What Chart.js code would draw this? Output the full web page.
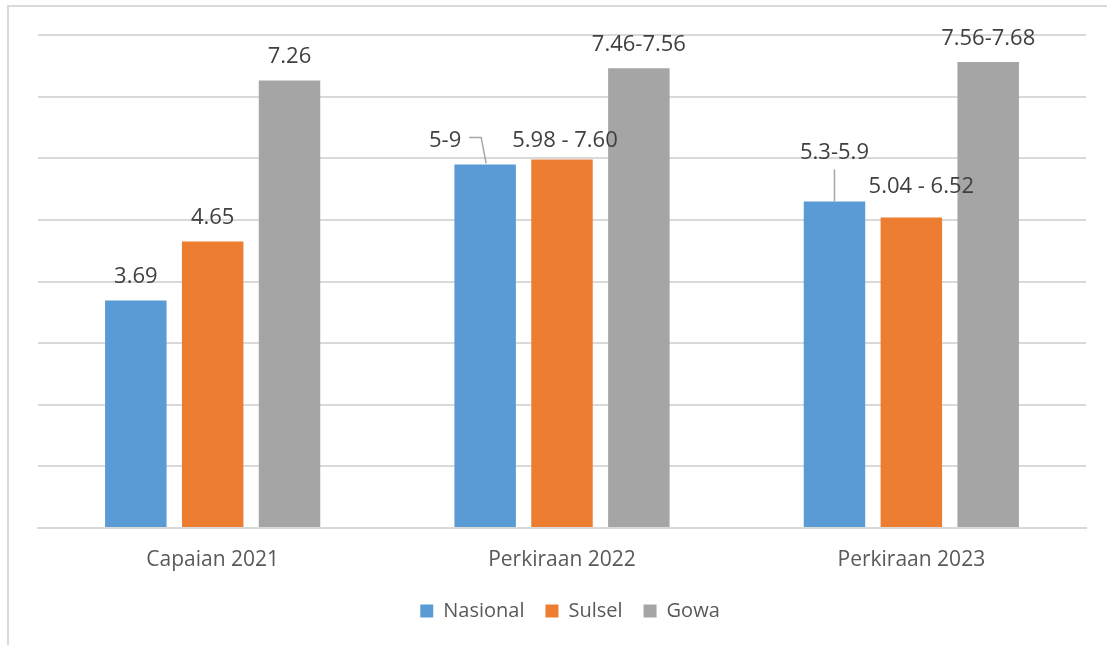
<!DOCTYPE html>
<html>
<head>
<meta charset="utf-8">
<script src="https://cdn.jsdelivr.net/npm/chart.js@4.4.1/dist/chart.umd.min.js"></script>
<style>
  html, body { margin: 0; padding: 0; background: #ffffff; }
  #wrap { position: relative; width: 1107px; height: 645px; }
</style>
</head>
<body>
<div id="wrap"><canvas id="chart" width="1107" height="645"></canvas></div>
<script>
// Categories and series
const categories = ['Capaian 2021', 'Perkiraan 2022', 'Perkiraan 2023'];
const seriesNames = ['Nasional', 'Sulsel', 'Gowa'];
const nasional = [3.69, 5.9, 5.3];
const sulsel = [4.65, 5.98, 5.04];
const gowa = [7.26, 7.46, 7.56];

// Value label texts shown over each bar
const labelsNasional = ['3.69', '5-9', '5.3-5.9'];
const labelsSulsel = ['4.65', '5.98 - 7.60', '5.04 - 6.52'];
const labelsGowa = ['7.26', '7.46-7.56', '7.56-7.68'];

// Y axis range and grid step
const yMin = 0, yMax = 8, yStep = 1;

const colors = ['#5b9bd5', '#ed7d31', '#a5a5a5'];
const FONT = '"Open Sans", "Noto Sans", sans-serif';

// Label placement relative to the bar top (dx, dy to text baseline), plus optional leader line
const labelPlacement = [
  [{dx: 0, dy: -18}, {dx: -40, dy: -17.5, leader: [[-16, -27], [-4, -27], [1, -1]]}, {dx: 0, dy: -42, leader: [[0, -32], [0, 0]]}],
  [{dx: 0, dy: -17.5}, {dx: 3, dy: -12.5}, {dx: 10, dy: -24}],
  [{dx: 0, dy: -17.5}, {dx: 0, dy: -17.5}, {dx: 0, dy: -17.5}]
];
const valueLabels = [labelsNasional, labelsSulsel, labelsGowa];

const frameAndLabels = {
  id: 'frameAndLabels',
  afterLayout(chart) {
    // nudge the legend row slightly right so it sits under the bar groups
    const lg = chart.legend;
    if (lg) { lg.left += 8; lg.right += 8; }
  },
  beforeDraw(chart) {
    const ctx = chart.ctx;
    ctx.save();
    ctx.strokeStyle = '#d9d9d9';
    ctx.lineWidth = 2;
    ctx.beginPath();
    ctx.moveTo(8, 645);
    ctx.lineTo(8, 6);
    ctx.lineTo(1107, 6);
    ctx.stroke();
    ctx.restore();
  },
  afterDatasetsDraw(chart) {
    const ctx = chart.ctx;
    ctx.save();
    ctx.font = '22px ' + FONT;
    ctx.fillStyle = '#404040';
    ctx.textAlign = 'center';
    ctx.textBaseline = 'alphabetic';
    chart.data.datasets.forEach((ds, di) => {
      const meta = chart.getDatasetMeta(di);
      meta.data.forEach((bar, i) => {
        const p = labelPlacement[di][i];
        const text = valueLabels[di][i];
        if (p.leader) {
          ctx.save();
          ctx.strokeStyle = '#a6a6a6';
          ctx.lineWidth = 1.5;
          ctx.beginPath();
          p.leader.forEach((pt, k) => {
            const px = bar.x + pt[0], py = bar.y + pt[1];
            if (k === 0) ctx.moveTo(px, py); else ctx.lineTo(px, py);
          });
          ctx.stroke();
          ctx.restore();
        }
        ctx.fillText(text, bar.x + p.dx, bar.y + p.dy);
      });
    });
    ctx.restore();
  }
};

new Chart(document.getElementById('chart'), {
  type: 'bar',
  data: {
    labels: categories,
    datasets: [
      {label: seriesNames[0], data: nasional, backgroundColor: colors[0]},
      {label: seriesNames[1], data: sulsel, backgroundColor: colors[1]},
      {label: seriesNames[2], data: gowa, backgroundColor: colors[2]}
    ]
  },
  options: {
    responsive: false,
    animation: false,
    events: [],
    categoryPercentage: 0.66,
    barPercentage: 0.8,
    layout: {padding: {left: 38, right: 21, top: 35, bottom: 14}},
    scales: {
      x: {
        grid: {display: false, drawTicks: false},
        border: {display: true, color: '#d9d9d9', width: 2},
        ticks: {color: '#595959', font: {family: FONT, size: 21}, padding: 19},
        afterFit(scale) { scale.height = 52; }
      },
      y: {
        min: yMin, max: yMax,
        grid: {color: '#d9d9d9', lineWidth: 2, drawTicks: false},
        border: {display: false},
        ticks: {display: false, stepSize: yStep},
        afterFit(scale) { scale.width = 0; }
      }
    },
    plugins: {
      legend: {
        position: 'bottom',
        labels: {
          color: '#595959',
          font: {family: FONT, size: 20},
          boxWidth: 13, boxHeight: 13,
          padding: 21
        }
      },
      tooltip: {enabled: false}
    }
  },
  plugins: [frameAndLabels]
});
</script>
</body>
</html>
